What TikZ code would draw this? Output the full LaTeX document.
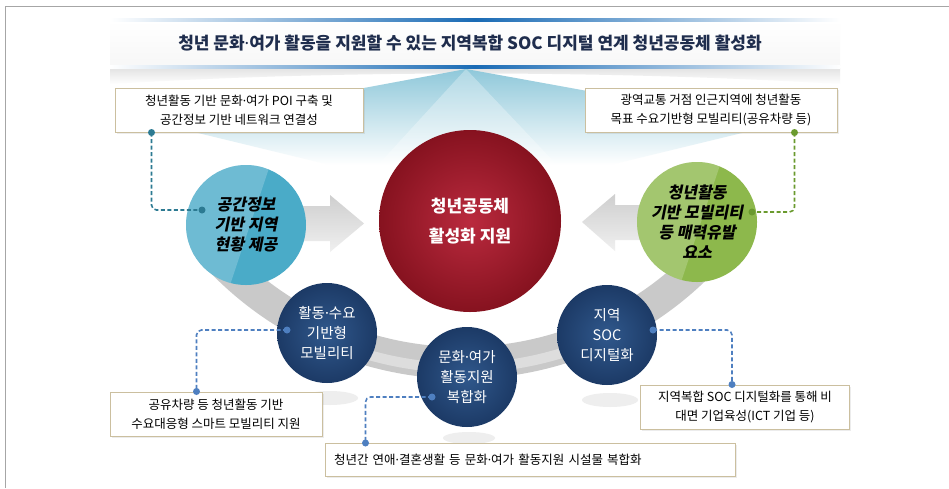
\documentclass[tikz,border=0pt]{standalone}
\usepackage{fontspec}
\setmainfont{Noto Sans CJK KR}
\newfontfamily\slantkr{Noto Sans CJK KR}[FakeSlant=0.2]
\newfontfamily\dotfont{Noto Sans}
\newcommand\mdot{{\dotfont ·}}
\usetikzlibrary{shadows}

\definecolor{titleblue}{HTML}{1A6BB5}
\definecolor{titleink}{HTML}{1F2D4D}
\definecolor{fanblue}{HTML}{8FC8DA}
\definecolor{boxtan}{HTML}{CBBF9F}
\definecolor{cyanC}{HTML}{4AABC8}
\definecolor{greenC}{HTML}{8DB84C}
\definecolor{redL}{HTML}{BA2A3E}
\definecolor{redD}{HTML}{86121F}
\definecolor{navyL}{HTML}{30588C}
\definecolor{navyD}{HTML}{1C3A66}
\definecolor{tealdash}{HTML}{2C7A92}
\definecolor{greendash}{HTML}{6A9A2E}
\definecolor{bluedash}{HTML}{4E7FC0}
\definecolor{ringgray}{HTML}{C9C9C9}

\begin{document}
\begin{tikzpicture}[x=1pt,y=-1pt,
    descbox/.style={draw=boxtan, line width=1pt, fill=white, inner sep=0pt, align=center,
        font=\fontsize{12.5}{19}\selectfont,
        drop shadow={opacity=0.15, shadow xshift=1.5pt, shadow yshift=-1.5pt}},
    disc/.style={circle, inner sep=0pt, align=center},
    halftone/.style={path picture={\fill[white,opacity=.2] (path picture bounding box.north west)
        -- ([xshift=24pt]path picture bounding box.north) -- ([xshift=-16pt]path picture bounding box.south)
        -- (path picture bounding box.south west) -- cycle;}},
    sidedisc/.style={disc, minimum size=120pt, halftone, font=\slantkr\bfseries\fontsize{16}{20}\selectfont},
    smalldisc/.style={disc, minimum size=100pt, inner color=navyL, outer color=navyD, text=white,
        font=\fontsize{14.5}{20}\selectfont},
    link/.style={dash pattern=on 4pt off 2.5pt, line width=1.6pt, rounded corners=5pt},
    grayarrow/.style={top color=gray!38, bottom color=gray!12}]
\useasboundingbox (0,0) rectangle (949,488);
\fill[white] (0,0) rectangle (949,488);
\draw[gray!70, line width=1pt] (5,488) -- (5,6) -- (949,6);

% title band
\shade[top color=white, bottom color=gray!6] (110,21) rectangle (840,65);
\shade[top color=gray!22, bottom color=white] (110,68) -- (840,68) -- (840,84) .. controls (600,70) and (340,70) .. (110,84) -- cycle;
\shade[left color=white, right color=white, middle color=titleblue] (110,18) rectangle (840,21);
\shade[left color=white, right color=white, middle color=titleblue] (110,65) rectangle (840,68);
\node[font=\bfseries\fontsize{17}{20}\selectfont, text=titleink] (title) at (470,43)
    {청년 문화\mdot 여가 활동을 지원할 수 있는 지역복합 SOC 디지털 연계 청년공동체 활성화};

% fan below the title
\shade[top color=fanblue, bottom color=white] (466,69) -- (165,125) -- (330,165) -- (610,165) -- (775,125) -- cycle;
\fill[white, opacity=.3] (466,69) -- (378,165) -- (557,165) -- cycle;

% shadows under the small discs
\fill[gray!13] (330,398) ellipse[x radius=28, y radius=7];
\fill[gray!13] (610,400) ellipse[x radius=28, y radius=7];
\fill[gray!13] (469,438) ellipse[x radius=26, y radius=6];

% text boxes
\node[descbox, minimum width=248pt, minimum height=44pt] (tl) at (239,110)
    {청년활동 기반 문화\mdot 여가 POI 구축 및\\공간정보 기반 네트워크 연결성};
\node[descbox, minimum width=252pt, minimum height=44pt] (tr) at (711,110)
    {광역교통 거점 인근지역에 청년활동\\목표 수요기반형 모빌리티(공유차량 등)};
\node[descbox, minimum width=212pt, minimum height=44pt] (bl) at (216,414)
    {공유차량 등 청년활동 기반\\수요대응형 스마트 모빌리티 지원};
\node[descbox, minimum width=209pt, minimum height=44pt] (br) at (745,407)
    {지역복합 SOC 디지털화를 통해 비\\대면 기업육성(ICT 기업 등)};
\node[descbox, minimum width=410pt, minimum height=33pt, text width=392pt, align=left] (bc) at (530,460)
    {청년간 연애\mdot 결혼생활 등 문화\mdot 여가 활동지원 시설물 복합화};

% ring and arrows
\draw[ringgray, line width=32pt] (462,28) ++(140:335) arc[start angle=140, end angle=40, radius=335];
\draw[gray!10, line width=10pt, opacity=.5] (462,28) ++(118:340) arc[start angle=118, end angle=62, radius=340];
\shade[grayarrow] (290,206) -- (330,206) -- (330,195) -- (364,223.5) -- (330,252) -- (330,241) -- (290,241) -- cycle;
\shade[grayarrow] (650,205) -- (615,205) -- (615,194) -- (582,222) -- (615,251) -- (615,240) -- (650,240) -- cycle;

% discs
\node[disc, minimum size=182pt, inner color=redL, outer color=redD, text=white,
    font=\bfseries\fontsize{17}{30}\selectfont] (rc) at (470,221) {청년공동체\\활성화 지원};
\node[sidedisc, fill=cyanC] (lc) at (246,225) {공간정보\\기반 지역\\현황 제공};
\node[sidedisc, fill=greenC] (gc) at (697,222) {청년활동\\기반 모빌리티\\등 매력유발\\요소};
\node[smalldisc] (s1) at (327,333) {활동\mdot 수요\\기반형\\모빌리티};
\node[smalldisc] (s2) at (467,377) {문화\mdot 여가\\활동지원\\복합화};
\node[smalldisc] (s3) at (607,335) {지역\\SOC\\디지털화};

% dashed links
\coordinate (lcdot) at ([shift={(-44,-15)}]lc.center);
\coordinate (tlfoot) at ([xshift=37pt]tl.south west);
\coordinate (gcdot) at ([shift={(55,-10)}]gc.center);
\coordinate (trfoot) at ([xshift=210pt]tr.south west);
\coordinate (s1dot) at ([shift={(-40,-3)}]s1.center);
\coordinate (blfoot) at ([xshift=87pt]bl.north west);
\coordinate (s2dot) at ([shift={(-35,20)}]s2.center);
\coordinate (bcfoot) at ([xshift=41pt]bc.north west);
\coordinate (s3dot) at ([shift={(46,-5)}]s3.center);
\coordinate (brfoot) at ([xshift=92pt]br.north west);

\draw[link, tealdash] (tlfoot) |- (lcdot);
\draw[link, greendash] (trfoot) |- (gcdot);
\draw[link, bluedash] (s1dot) -| (blfoot);
\draw[link, bluedash] (s2dot) -| (bcfoot);
\draw[link, bluedash] (s3dot) -| (brfoot);
\fill[tealdash] (tlfoot) circle (3.5pt) (lcdot) circle (3.5pt);
\fill[greendash] (trfoot) circle (3.5pt) (gcdot) circle (3.5pt);
\fill[bluedash] (s1dot) circle (3.5pt) (blfoot) circle (3.5pt)
    (s2dot) circle (3.5pt) (bcfoot) circle (3.5pt)
    (s3dot) circle (3.5pt) (brfoot) circle (3.5pt);
\end{tikzpicture}
\end{document}
